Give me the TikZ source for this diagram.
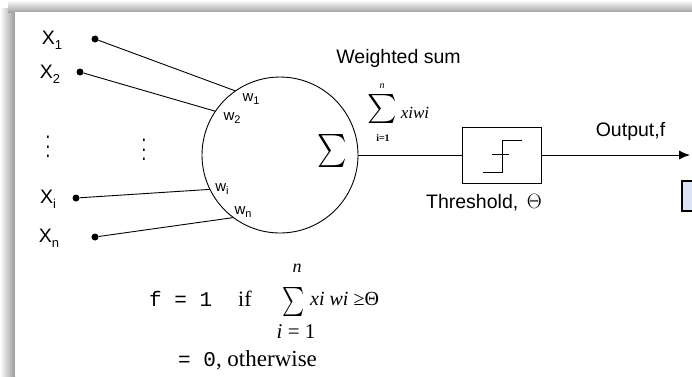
\documentclass[tikz,border=0pt]{standalone}
\usepackage{graphicx}
\usepackage{fontspec}
\setmainfont{Liberation Sans}
\newfontfamily\serifr{Liberation Serif}
\newfontfamily\monof{Liberation Mono}
\usetikzlibrary{arrows.meta}
\definecolor{boxblue}{RGB}{219,228,245}
\tikzset{
  inp/.style={circle,fill,inner sep=0pt,minimum size=7pt},
  lab/.style={font=\fontsize{19.5}{19.5}\selectfont,inner sep=0pt},
  wlab/.style={font=\fontsize{15}{15}\selectfont,inner sep=0pt},
  wire/.style={line width=0.9pt},
  frm/.style={inner sep=0pt,anchor=base west},
}
\newcommand{\sbx}[1]{\raisebox{-0.5ex}{\fontsize{13}{13}\selectfont #1}}
\newcommand{\sbw}[1]{\raisebox{-0.4ex}{\fontsize{11}{11}\selectfont #1}}
\begin{document}
\begin{tikzpicture}[x=1pt,y=-1pt]
\useasboundingbox (0,0) rectangle (692,376);
\clip (0,0) rectangle (692,376);
\fill[white] (0,0) rectangle (692,376);
% shadow
\shade[left color=white,right color=black!40] (0,8) rectangle (15,376);
\shade[top color=white,bottom color=black!35] (8,0) rectangle (692,12);
\fill[white] (15,12) rectangle (692,376);

% neuron
\node[circle,draw,wire,minimum size=156pt,inner sep=0pt] (neu) at (280,155) {};
\node[inner sep=0pt] (sig) at (332,151) {\scalebox{2.8}[3.3]{$\sum$}};

% inputs
\node[inp] (d1) at (95,39) {};
\node[inp] (d2) at (80,72) {};
\node[inp] (di) at (76,198) {};
\node[inp] (dn) at (95,237) {};
\node[lab] (x1) at (52,40) {X\sbx{1}};
\node[lab] (x2) at (50,74) {X\sbx{2}};
\node[lab] (xi) at (48,199) {X\sbx{i}};
\node[lab] (xn) at (49,238) {X\sbx{n}};
\node[inner sep=0pt] (vd1) at (48,140) {\scalebox{1.7}[2.3]{$\vdots$}};
\node[inner sep=0pt] (vd2) at (144,143) {\scalebox{1.7}[2.3]{$\vdots$}};

\draw[wire] (d1) -- (neu.125);
\draw[wire] (d2) -- (neu.146);
\draw[wire] (di) -- (neu.206);
\draw[wire] (dn) -- (neu.233);

\node[wlab] (w1) at (251,99) {w\sbw{1}};
\node[wlab] (w2) at (232,118) {w\sbw{2}};
\node[wlab] (wi) at (222,189) {w\sbw{i}};
\node[wlab] (wn) at (243,212) {w\sbw{n}};

% weighted sum
\node[lab] (wsum) at (398.5,58) {Weighted sum};
\node[inner sep=0pt] (s2) at (382,109) {\scalebox{2.8}[2.9]{$\sum$}};
\node[inner sep=0pt,font=\serifr\itshape\fontsize{10}{10}\selectfont] (s2n) at (382,86) {n};
\node[inner sep=0pt,font=\serifr\bfseries\fontsize{10}{10}\selectfont] (s2i) at (383,138) {i=1};
\node[inner sep=0pt,font=\serifr\itshape\fontsize{17}{17}\selectfont] (s2x) at (415,113) {xiwi};

% threshold box
\node[draw,wire,minimum width=79pt,minimum height=56pt,inner sep=0pt] (thr) at (501.5,155) {};
\draw[wire] (483,172) -- (502,172) -- (502,140) -- (522,140);
\draw[wire] (492,154) -- (509,154);
\node[lab] (thl) at (484,203) {Threshold,\, $\Theta$};

\draw[wire] (neu.east) -- (thr.west);
\coordinate (out) at (690,155);
\draw[wire,-{Latex[length=11pt,width=9pt]}] (thr.east) -- (out);
\node[lab] (outl) at (630.5,131) {Output,f};

\draw[line width=2.5pt,fill=boxblue] (682,181) rectangle (705,211);

% formula
\node[frm,font=\monof\fontsize{21}{21}\selectfont] (f1) at (149,306) {f = 1};
\node[frm,font=\serifr\fontsize{22}{22}\selectfont] (fif) at (238,306) {if};
\node[inner sep=0pt] (s3) at (294,302) {\scalebox{2.1}[2.9]{$\sum$}};
\node[inner sep=0pt,font=\serifr\itshape\fontsize{18}{18}\selectfont] (s3n) at (297,268) {n};
\node[inner sep=0pt,font=\serifr\fontsize{21}{21}\selectfont] (s3i) at (296,332) {\textit{i} = 1};
\node[frm,font=\serifr\fontsize{20}{20}\selectfont] (s3x) at (310,305) {\textit{xi wi} ≥Θ};
\node[frm,font=\monof\fontsize{21}{21}\selectfont] (f0) at (178,366) {= 0{\serifr\fontsize{23}{23}\selectfont, otherwise}};
\end{tikzpicture}
\end{document}
